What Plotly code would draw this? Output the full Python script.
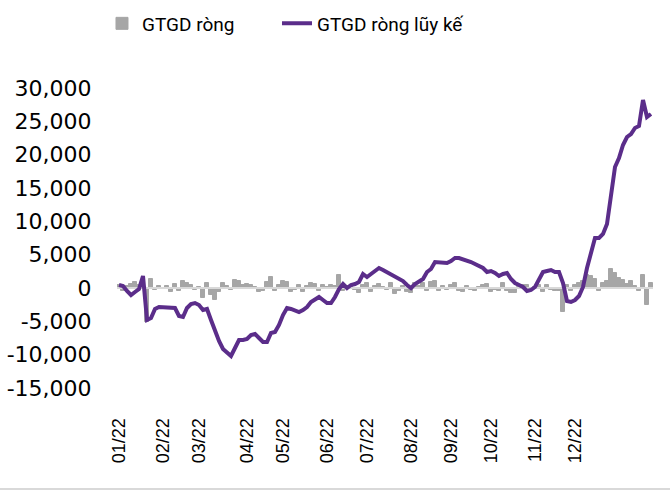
import plotly.graph_objects as go

# ---------------- data ----------------
month_labels = ["01/22", "02/22", "03/22", "04/22", "05/22", "06/22",
                "07/22", "08/22", "09/22", "10/22", "11/22", "12/22"]
# index of the first session of each month in the series below
month_tick_index = [0, 11, 20, 32, 41, 52, 62, 73, 83, 93, 104, 114]

y_tick_values = [-15000, -10000, -5000, 0, 5000, 10000, 15000, 20000, 25000, 30000]
y_tick_labels = ["-15,000", "-10,000", "-5,000", "0", "5,000", "10,000",
                 "15,000", "20,000", "25,000", "30,000"]

# net value (bars), bn VND
net_flow = [
    400, -500, 300, 600, 900, 400, 1200, -5100, 1400, -300,
    300, -200, 300, -600, 600, -400, 1000, 800, 400, -300,
    200, -1500, 700, -1000, -1800, -600, 700, 300, -300, 1200,
    1100, 400, 600, 500, 200, -600, -400, 900, 1600, -500,
    500, 1100, 900, -600, -300, 400, -600, 300, 800, 600,
    -500, 500, 200, 500, 300, 2000, -500, 300, 300, -300,
    -800, 400, 800, -600, 300, 600, 200, -300, 700, -900,
    -400, 300, -600, -800, 800, 300, 700, -500, 900, 1100,
    -500, 300, -300, 400, 800, -400, -600, 300, -300, -500,
    200, 500, 600, -600, -300, -400, 700, -500, -700, -800,
    200, 500, 400, -300, 200, 500, -600, 400, -300, -500,
    -400, -3600, 400, -400, 500, 700, 1100, 2000, 1800, 1300,
    -500, 800, 1000, 2800, 2200, 1500, 1200, 600, 1000, 300,
    -500, 1950, -2600, 700,
]

# cumulative net value (line), bn VND
net_cum = [
    450, 300, -450, -1050, -600, -150, 1800, -4800, -4500, -3150,
    -2850, -2850, -2850, -2850, -3000, -4200, -4350, -3000, -2400, -2250,
    -2550, -3300, -3150, -4800, -6450, -7950, -9150, -9600, -10200, -9000,
    -7800, -7800, -7650, -7050, -6900, -7500, -8100, -8100, -6750, -6600,
    -5550, -4050, -3000, -3150, -3300, -3600, -3300, -2850, -2100, -1650,
    -1350, -1800, -2250, -2250, -1350, -150, 600, 0, 450, 600,
    900, 2100, 1650, 2100, 2550, 3000, 2700, 2400, 2100, 1650,
    1500, 1050, 450, 0, 600, 1050, 1350, 2400, 2850, 3900,
    3900, 3750, 3750, 4050, 4500, 4500, 4350, 4050, 3900, 3600,
    3300, 3000, 2400, 2550, 2250, 1800, 2100, 2250, 1350, 750,
    450, 150, -450, -300, 150, 1200, 2400, 2550, 2700, 2400,
    2400, 750, -1950, -2100, -1800, -1200, 150, 3000, 5550, 7500,
    7500, 8100, 9600, 13950, 18150, 19500, 21450, 22650, 23100, 24000,
    24300, 28200, 25650, 26100,
]

series_bar_name = "GTGD ròng"
series_line_name = "GTGD ròng lũy kế"

# ---------------- figure ----------------
N = len(net_cum)
x = list(range(N))
x_lo, x_hi = -0.5, N - 0.5

fig = go.Figure()
fig.add_trace(go.Bar(
    x=x, y=net_flow, name=series_bar_name, legend="legend",
    marker=dict(color="#a6a6a6", line=dict(width=1, color="#a6a6a6")),
))
# horizontal axis line at zero, drawn above the bars
fig.add_trace(go.Scatter(
    x=[x_lo, x_hi], y=[0, 0], mode="lines",
    line=dict(color="#d9d9d9", width=2),
    showlegend=False, hoverinfo="skip",
))
fig.add_trace(go.Scatter(
    x=x, y=net_cum, mode="lines", name=series_line_name, legend="legend2",
    line=dict(color="#5b2d8a", width=4),
))

legend_font = dict(family="Roboto", size=19, color="black")
fig.update_layout(
    width=670, height=492,
    margin=dict(l=117, r=17, t=88, b=104, autoexpand=False),
    plot_bgcolor="white", paper_bgcolor="white",
    bargap=0,
    showlegend=True,
    legend=dict(
        orientation="h", x=-0.028, xanchor="left", y=1.215, yanchor="middle",
        font=legend_font, bgcolor="rgba(0,0,0,0)",
    ),
    legend2=dict(
        orientation="h", x=0.2985, xanchor="left", y=1.215, yanchor="middle",
        font=legend_font, bgcolor="rgba(0,0,0,0)",
    ),
    shapes=[dict(type="line", xref="paper", yref="paper",
                 x0=-0.22, x1=1.04, y0=-0.337, y1=-0.337,
                 line=dict(color="#d9d9d9", width=2))],
)
fig.update_xaxes(
    range=[x_lo, x_hi], automargin=False,
    tickmode="array", tickvals=month_tick_index, ticktext=month_labels,
    tickangle=-90, ticks="outside", ticklen=22, tickcolor="rgba(0,0,0,0)",
    showgrid=False, zeroline=False, showline=False,
    tickfont=dict(family="Liberation Sans, Arial", size=18, color="black"),
)
fig.update_yaxes(
    range=[-15000, 30000], automargin=False,
    tickmode="array", tickvals=y_tick_values, ticktext=y_tick_labels,
    ticks="outside", ticklen=20, tickcolor="rgba(0,0,0,0)",
    showgrid=False, zeroline=False, showline=False,
    tickfont=dict(family="DejaVu Sans", size=22, color="black"),
)

fig.write_html("out.html", config={"displayModeBar": False},
               post_script="document.body.style.margin='0px';")
